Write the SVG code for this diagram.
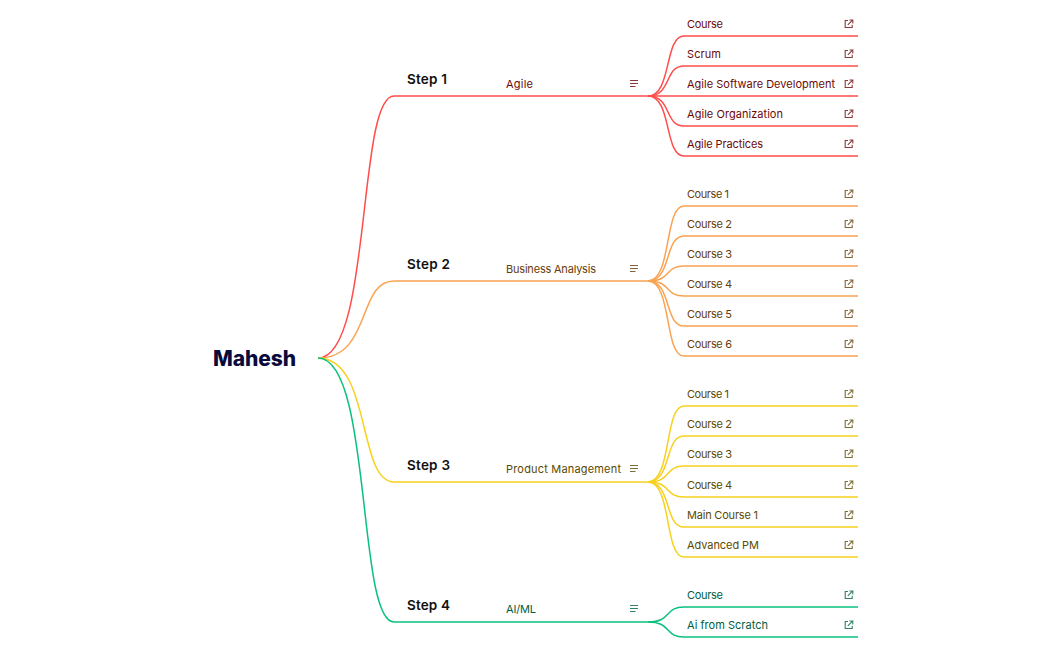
<svg xmlns="http://www.w3.org/2000/svg" width="1049" height="650" viewBox="0 0 1049 650">
<style>
text{font-family:"Inter","Noto Sans","Liberation Sans",sans-serif}
.root{font-size:21px;font-weight:800;fill:#0a0a3c}
.step{font-size:13.5px;font-weight:600;fill:#111}
.t{font-size:11px;font-weight:400}
path{fill:none}
.c{stroke-width:1.5}
.r{stroke:#ff4d4a}.o{stroke:#f9a352}.y{stroke:#f7d11e}.g{stroke:#0cc07f}
.tr{fill:#6b0a0a}.to{fill:#663c0a}.ty{fill:#5c4a00}.tg{fill:#00603f}
use{stroke-opacity:.8}
</style>
<defs>
<g id="ext" fill="none" stroke-width="1.1"><path d="M4 1.5H1.2V8.5H8.2V5.8"/><path d="M3.8 5.9L8.3 1.4M5.4 1H8.8V4.4"/></g>
<g id="note" fill="none" stroke-width="1"><path d="M0 .5H8M0 3.5H8M0 6.5H5.5"/></g>
</defs>
<g id="connectors">
<g class="c r">
<path d="M318 358C372 358 357 96 394 96H648"/>
<path d="M648 96C672 96 664 36 684 36H858"/>
<path d="M648 96C672 96 664 66 684 66H858"/>
<path d="M648 96H858"/>
<path d="M648 96C672 96 664 126 684 126H858"/>
<path d="M648 96C672 96 664 156 684 156H858"/>
</g>
<g class="c o">
<path d="M318 358C372 358 357 281 394 281H648"/>
<path d="M648 281C672 281 664 206 684 206H858"/>
<path d="M648 281C672 281 664 236 684 236H858"/>
<path d="M648 281C672 281 664 266 684 266H858"/>
<path d="M648 281C672 281 664 296 684 296H858"/>
<path d="M648 281C672 281 664 326 684 326H858"/>
<path d="M648 281C672 281 664 356 684 356H858"/>
</g>
<g class="c y">
<path d="M318 358C372 358 357 482 394 482H648"/>
<path d="M648 482C672 482 664 406 684 406H858"/>
<path d="M648 482C672 482 664 436 684 436H858"/>
<path d="M648 482C672 482 664 466 684 466H858"/>
<path d="M648 482C672 482 664 497 684 497H858"/>
<path d="M648 482C672 482 664 527 684 527H858"/>
<path d="M648 482C672 482 664 557 684 557H858"/>
</g>
<g class="c g">
<path d="M318 358C372 358 357 622 394 622H648"/>
<path d="M648 622C672 622 664 607 684 607H858"/>
<path d="M648 622C672 622 664 637 684 637H858"/>
</g>
</g>
<g id="root"><text class="root" x="213" y="366" textLength="83">Mahesh</text></g>
<g id="step1"><text class="step" x="407" y="84" textLength="40">Step 1</text></g>
<g id="step2"><text class="step" x="407" y="269" textLength="43">Step 2</text></g>
<g id="step3"><text class="step" x="407" y="470" textLength="43">Step 3</text></g>
<g id="step4"><text class="step" x="407" y="610" textLength="43">Step 4</text></g>

<g id="agile"><text class="t tr" x="506" y="88" textLength="27">Agile</text><use href="#note" x="630" y="80" stroke="#6b0a0a"/></g>
<g id="a1"><text class="t tr" x="687" y="28" textLength="36">Course</text><use href="#ext" x="844" y="19" stroke="#6b0a0a"/></g>
<g id="a2"><text class="t tr" x="687" y="58" textLength="34">Scrum</text><use href="#ext" x="844" y="49" stroke="#6b0a0a"/></g>
<g id="a3"><text class="t tr" x="687" y="88" textLength="148">Agile Software Development</text><use href="#ext" x="844" y="79" stroke="#6b0a0a"/></g>
<g id="a4"><text class="t tr" x="687" y="118" textLength="96">Agile Organization</text><use href="#ext" x="844" y="109" stroke="#6b0a0a"/></g>
<g id="a5"><text class="t tr" x="687" y="148" textLength="76">Agile Practices</text><use href="#ext" x="844" y="139" stroke="#6b0a0a"/></g>

<g id="ba"><text class="t to" x="506" y="273" textLength="90">Business Analysis</text><use href="#note" x="630" y="265" stroke="#663c0a"/></g>
<g id="b1"><text class="t to" x="687" y="198" textLength="42">Course 1</text><use href="#ext" x="844" y="189" stroke="#663c0a"/></g>
<g id="b2"><text class="t to" x="687" y="228" textLength="45">Course 2</text><use href="#ext" x="844" y="219" stroke="#663c0a"/></g>
<g id="b3"><text class="t to" x="687" y="258" textLength="45">Course 3</text><use href="#ext" x="844" y="249" stroke="#663c0a"/></g>
<g id="b4"><text class="t to" x="687" y="288" textLength="45">Course 4</text><use href="#ext" x="844" y="279" stroke="#663c0a"/></g>
<g id="b5"><text class="t to" x="687" y="318" textLength="45">Course 5</text><use href="#ext" x="844" y="309" stroke="#663c0a"/></g>
<g id="b6"><text class="t to" x="687" y="348" textLength="45">Course 6</text><use href="#ext" x="844" y="339" stroke="#663c0a"/></g>

<g id="pm"><text class="t ty" x="506" y="473" textLength="115">Product Management</text><use href="#note" x="630" y="465" stroke="#5c4a00"/></g>
<g id="p1"><text class="t ty" x="687" y="398" textLength="42">Course 1</text><use href="#ext" x="844" y="389" stroke="#5c4a00"/></g>
<g id="p2"><text class="t ty" x="687" y="428" textLength="45">Course 2</text><use href="#ext" x="844" y="419" stroke="#5c4a00"/></g>
<g id="p3"><text class="t ty" x="687" y="458" textLength="45">Course 3</text><use href="#ext" x="844" y="449" stroke="#5c4a00"/></g>
<g id="p4"><text class="t ty" x="687" y="489" textLength="45">Course 4</text><use href="#ext" x="844" y="480" stroke="#5c4a00"/></g>
<g id="p5"><text class="t ty" x="687" y="519" textLength="71">Main Course 1</text><use href="#ext" x="844" y="510" stroke="#5c4a00"/></g>
<g id="p6"><text class="t ty" x="687" y="549" textLength="72">Advanced PM</text><use href="#ext" x="844" y="540" stroke="#5c4a00"/></g>

<g id="aiml"><text class="t tg" x="506" y="613" textLength="30">AI/ML</text><use href="#note" x="630" y="605" stroke="#00603f"/></g>
<g id="m1"><text class="t tg" x="687" y="599" textLength="36">Course</text><use href="#ext" x="844" y="590" stroke="#00603f"/></g>
<g id="m2"><text class="t tg" x="687" y="629" textLength="81">Ai from Scratch</text><use href="#ext" x="844" y="620" stroke="#00603f"/></g>
</svg>
